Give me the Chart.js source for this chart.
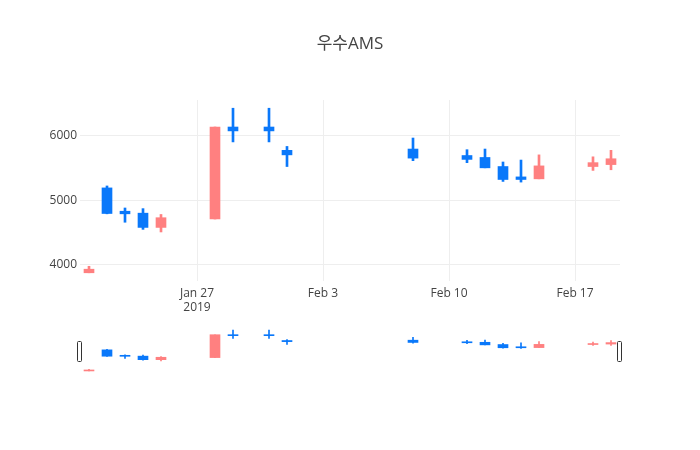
<!DOCTYPE html>
<html>
<head>
<meta charset="utf-8">
<script src="https://cdn.jsdelivr.net/npm/chart.js@4.4.1/dist/chart.umd.min.js"></script>
<style>
html,body{margin:0;padding:0;background:#fff;}
#wrap{position:relative;width:700px;height:450px;}
#main{position:absolute;left:0;top:0;width:700px;height:320px;}
#slider{position:absolute;left:0;top:320px;width:700px;height:130px;}
</style>
</head>
<body>
<div id="wrap">
  <div id="main"><canvas id="c1"></canvas></div>
  <div id="slider"><canvas id="c2"></canvas></div>
</div>
<script>
const title = '우수AMS';
const dates = ['2019-01-21','2019-01-22','2019-01-23','2019-01-24','2019-01-25','2019-01-28','2019-01-29','2019-01-31','2019-02-01','2019-02-08','2019-02-11','2019-02-12','2019-02-13','2019-02-14','2019-02-15','2019-02-18','2019-02-19'];
const open  = [3880,5190,4830,4800,4580,4710,6130,6130,5770,5790,5690,5660,5520,5360,5330,5520,5550];
const high  = [3980,5220,4880,4870,4780,6130,6420,6420,5830,5960,5780,5790,5590,5620,5700,5670,5770];
const low   = [3880,4790,4660,4550,4510,4710,5900,5900,5520,5610,5580,5500,5290,5280,5330,5460,5470];
const close = [3935,4795,4790,4580,4730,6130,6070,6070,5700,5650,5630,5500,5320,5320,5530,5580,5640];
const tickDates = ['2019-01-27','2019-02-03','2019-02-10','2019-02-17'];
const tickLabels = [['Jan 27','2019'],'Feb 3','Feb 10','Feb 17'];
const yTicks = [4000,5000,6000];

const UP = '#FF8080', DOWN = '#0A78FA';
const FONT = "'Open Sans', 'Noto Sans CJK KR', sans-serif";
const dayNum = s => { const p = s.split('-').map(Number); return Date.UTC(p[0], p[1]-1, p[2]) / 86400000; };
const xs = dates.map(dayNum);
const tickXs = tickDates.map(dayNum);
const xMin = xs[0] - 0.5, xMax = xs[xs.length-1] + 0.5;
const lo = Math.min(...low), hi = Math.max(...high), pad = (hi-lo)*0.05;
const colors = open.map((o,i) => close[i] >= o ? UP : DOWN);

function datasets(bodyW, wickW){
  return [
    {data: xs.map((x,i)=>({x, y:[open[i], close[i]]})), backgroundColor: colors, borderColor: colors, borderWidth: 0, barThickness: bodyW, grouped:false, order:0, borderSkipped:false, minBarLength: 1},
    {data: xs.map((x,i)=>({x, y:[low[i], high[i]]})), backgroundColor: colors, borderWidth: 0, barThickness: wickW, grouped:false, order:1, borderSkipped:false}
  ];
}

Chart.defaults.font.family = FONT;
Chart.defaults.color = '#444';

new Chart(document.getElementById('c1'), {
  type: 'bar',
  data: {datasets: datasets(10, 2)},
  options: {
    responsive: true, maintainAspectRatio: false, animation: false,
    layout: {padding: 0},
    plugins: {
      legend: {display: false}, tooltip: {enabled: false},
      title: {display: true, text: title, color: '#444', font: {size: 17, weight: 'normal', family: FONT}, padding: {top: 34, bottom: 45.6}}
    },
    scales: {
      x: {
        type: 'linear', min: xMin, max: xMax, offset: false,
        grid: {color: '#eee', drawTicks: false, offset: false}, border: {display: false},
        afterBuildTicks: s => { s.ticks = tickXs.map(v => ({value: v})); },
        afterFit: s => { s.height = 39; },
        ticks: {padding: 5, maxRotation: 0, autoSkip: false, font: {size: 12}, color: '#444',
          callback: v => { const k = tickXs.indexOf(v); return k >= 0 ? tickLabels[k] : ''; }}
      },
      y: {
        min: lo - pad, max: hi + pad,
        grid: {color: '#eee', drawTicks: false}, border: {display: false},
        afterBuildTicks: s => { s.ticks = yTicks.map(v => ({value: v})); },
        afterFit: s => { s.width = 80; },
        ticks: {padding: 3, font: {size: 12}, color: '#444', callback: v => String(v)}
      },
      yR: {
        position: 'right', min: lo - pad, max: hi + pad,
        grid: {display: false, drawTicks: false}, border: {display: false},
        ticks: {display: false},
        afterFit: s => { s.width = 80; }
      }
    }
  }
});

const handles = {
  id: 'handles',
  afterDraw(chart){
    const {ctx, chartArea: a} = chart;
    const cy = (a.top + a.bottom) / 2;
    ctx.save();
    ctx.fillStyle = '#fff'; ctx.strokeStyle = '#333'; ctx.lineWidth = 1;
    [a.left, a.right].forEach(x => {
      ctx.beginPath();
      ctx.roundRect(Math.round(x) - 2.5, Math.round(cy) - 9.5, 4, 20, 1);
      ctx.fill(); ctx.stroke();
    });
    ctx.restore();
  }
};

new Chart(document.getElementById('c2'), {
  type: 'bar',
  data: {datasets: datasets(10, 1)},
  plugins: [handles],
  options: {
    responsive: true, maintainAspectRatio: false, animation: false,
    layout: {padding: {left: 80, right: 80, top: 8, bottom: 77}},
    plugins: {legend: {display: false}, tooltip: {enabled: false}},
    scales: {
      x: {type: 'linear', min: xMin, max: xMax, offset: false, display: false},
      y: {min: lo - pad, max: hi + pad, display: false}
    }
  }
});
</script>
</body>
</html>
